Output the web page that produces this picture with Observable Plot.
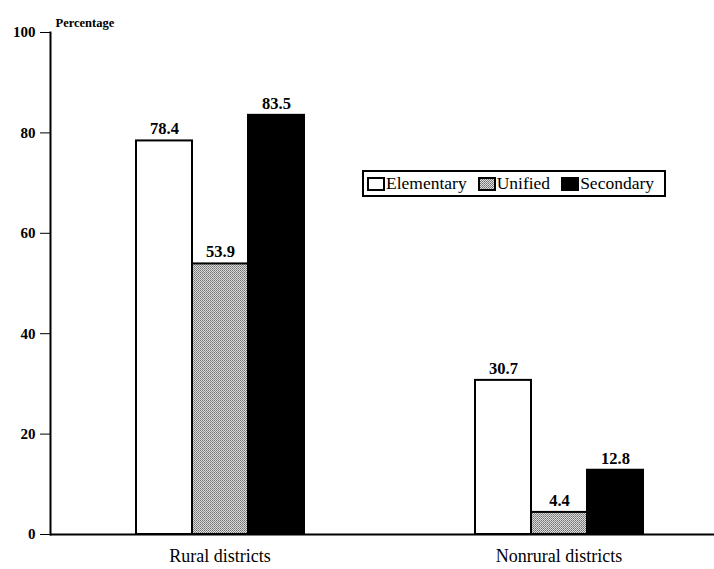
<!DOCTYPE html>
<html>
<head>
<meta charset="utf-8">
<script src="https://cdn.jsdelivr.net/npm/d3@7"></script>
<script src="https://cdn.jsdelivr.net/npm/@observablehq/plot@0.6"></script>
<style>
  html, body { margin: 0; padding: 0; background: #fff; overflow: hidden; }
  #wrap { position: relative; width: 714px; height: 569px; }
  #legend {
    position: absolute; left: 362px; top: 170px; width: 297px; height: 23px;
    border: 2px solid #000; display: flex; align-items: center; white-space: nowrap;
    font-family: "Liberation Serif", serif; font-size: 17.5px; color: #000;
    padding-left: 3px; box-sizing: content-box; overflow: hidden;
  }
  #legend .item { display: flex; align-items: center; margin-right: 11px; }
  #legend svg { margin-right: 1px; }
</style>
</head>
<body>
<svg width="0" height="0" style="position:absolute">
  <defs>
    <pattern id="stipple" width="2" height="2" patternUnits="userSpaceOnUse">
      <rect width="2" height="2" fill="#dcdcdc"></rect>
      <rect x="0" y="0" width="1" height="1" fill="#707070"></rect>
      <rect x="1" y="1" width="1" height="1" fill="#8a8a8a"></rect>
    </pattern>
  </defs>
</svg>
<div id="wrap"></div>
<script>
const groups = ["Rural districts", "Nonrural districts"];
const series = ["Elementary", "Unified", "Secondary"];
const rural = [78.4, 53.9, 83.5];
const nonrural = [30.7, 4.4, 12.8];
const yTicks = [0, 20, 40, 60, 80, 100];
const seriesFills = ["#ffffff", "url(#stipple)", "#000000"];

const data = [];
[rural, nonrural].forEach((vals, gi) => {
  vals.forEach((v, si) => data.push({group: groups[gi], series: series[si], value: v}));
});

const font = "Liberation Serif";

const chart = Plot.plot({
  width: 714,
  height: 569,
  marginLeft: 50,
  marginRight: -14,
  marginTop: 32,
  marginBottom: 35,
  style: {fontFamily: font, background: "#fff", color: "#000"},
  fx: {domain: groups, padding: 0},
  x: {domain: series, paddingInner: 0, paddingOuter: 1.5, axis: null},
  y: {domain: [0, 100], ticks: yTicks},
  color: {domain: series, range: seriesFills},
  marks: [
    Plot.barY(data, {fx: "group", x: "series", y: "value", fill: "series", stroke: "#000", strokeWidth: 2}),
    Plot.text(data, {fx: "group", x: "series", y: "value", text: d => d.value.toFixed(1), dy: -12, fontSize: 16.5, fontWeight: "bold", fill: "#000"}),
    Plot.ruleY([0], {stroke: "#000", strokeWidth: 2}),
    Plot.frame({anchor: "left", facetAnchor: "left", stroke: "#000", strokeWidth: 2}),
    Plot.axisY({ticks: yTicks, tickSize: 10, tickPadding: 5, fontSize: 15, fontWeight: "bold", label: "Percentage", labelAnchor: "top", labelArrow: "none", labelOffset: -5}),
    Plot.axisFx({anchor: "bottom", label: null, tickSize: 0, tickPadding: 15, fontSize: 18})
  ]
});

const wrap = document.getElementById("wrap");
wrap.appendChild(chart);

// nudge the y-axis label down to sit just above the axis top
d3.select(chart).selectAll("g[aria-label='y-axis label'] text")
  .attr("dy", "1.2em").style("font-size", "12.5px").style("font-weight", "bold");

// Legend built from the series and fills
const legend = d3.select(wrap).append("div").attr("id", "legend");
series.forEach((s, i) => {
  const item = legend.append("div").attr("class", "item");
  const sw = item.append("svg").attr("width", 18).attr("height", 14);
  sw.append("rect").attr("x", 1).attr("y", 1).attr("width", 16).attr("height", 12)
    .attr("fill", seriesFills[i]).attr("stroke", "#000").attr("stroke-width", 2);
  item.append("span").text(s);
});
</script>
</body>
</html>
